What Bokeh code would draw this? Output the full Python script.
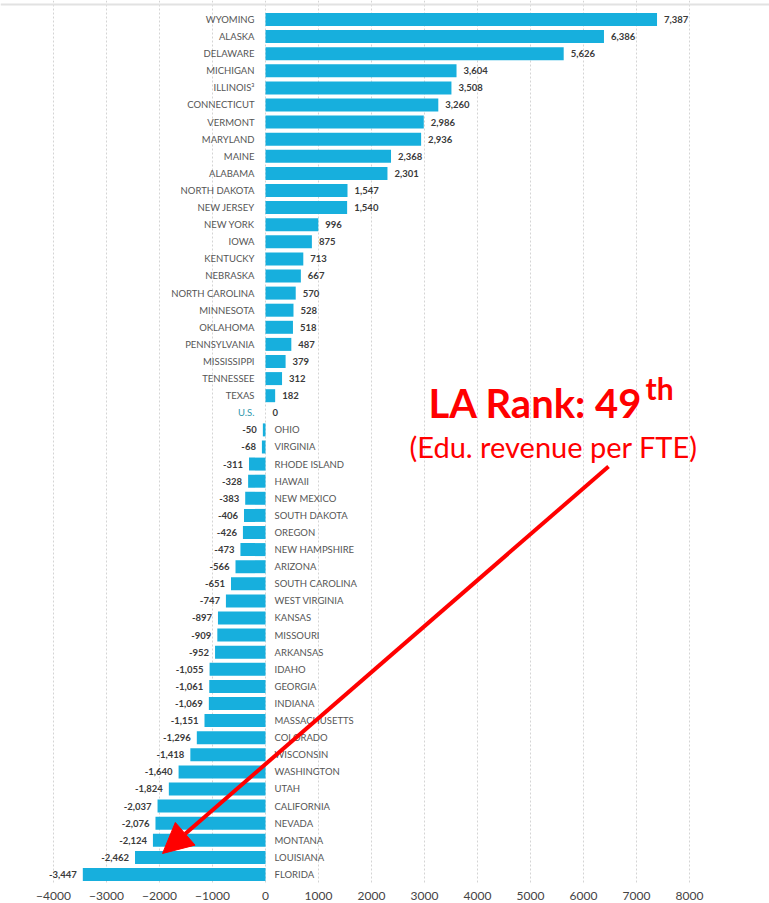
from bokeh.plotting import figure
from bokeh.models import Range1d, FixedTicker, ColumnDataSource, Label, Arrow, NormalHead, Span
from bokeh.core.properties import value
from bokeh.embed import file_html
from bokeh.resources import INLINE

states = ["WYOMING", "ALASKA", "DELAWARE", "MICHIGAN", "ILLINOIS³", "CONNECTICUT",
          "VERMONT", "MARYLAND", "MAINE", "ALABAMA", "NORTH DAKOTA", "NEW JERSEY",
          "NEW YORK", "IOWA", "KENTUCKY", "NEBRASKA", "NORTH CAROLINA", "MINNESOTA",
          "OKLAHOMA", "PENNSYLVANIA", "MISSISSIPPI", "TENNESSEE", "TEXAS", "U.S.",
          "OHIO", "VIRGINIA", "RHODE ISLAND", "HAWAII", "NEW MEXICO", "SOUTH DAKOTA",
          "OREGON", "NEW HAMPSHIRE", "ARIZONA", "SOUTH CAROLINA", "WEST VIRGINIA",
          "KANSAS", "MISSOURI", "ARKANSAS", "IDAHO", "GEORGIA", "INDIANA",
          "MASSACHUSETTS", "COLORADO", "WISCONSIN", "WASHINGTON", "UTAH",
          "CALIFORNIA", "NEVADA", "MONTANA", "LOUISIANA", "FLORIDA"]
values = [7387, 6386, 5626, 3604, 3508, 3260, 2986, 2936, 2368, 2301, 1547, 1540,
          996, 875, 713, 667, 570, 528, 518, 487, 379, 312, 182, 0,
          -50, -68, -311, -328, -383, -406, -426, -473, -566, -651, -747,
          -897, -909, -952, -1055, -1061, -1069, -1151, -1296, -1418, -1640, -1824,
          -2037, -2076, -2124, -2462, -3447]
x_ticks = [-4000, -3000, -2000, -1000, 0, 1000, 2000, 3000, 4000, 5000, 6000, 7000, 8000]

BAR = "#17AFDD"
NAME_COL = "#555555"
VAL_COL = "#3a3a3a"
US_COL = "#2f98ad"

rows = list(range(len(states)))
pos_i = [i for i, v in enumerate(values) if v >= 0]
neg_i = [i for i, v in enumerate(values) if v < 0]

def fmt(v):
    return f"{v:,}"

pos_src = ColumnDataSource(dict(
    y=[rows[i] for i in pos_i],
    v=[values[i] for i in pos_i],
    name=[states[i] for i in pos_i],
    lab=[fmt(values[i]) for i in pos_i],
    ncol=[US_COL if states[i] == "U.S." else NAME_COL for i in pos_i],
))
neg_src = ColumnDataSource(dict(
    y=[rows[i] for i in neg_i],
    v=[values[i] for i in neg_i],
    name=[states[i] for i in neg_i],
    lab=[fmt(values[i]) for i in neg_i],
))
bar_src = ColumnDataSource(dict(y=rows, v=values))

p = figure(width=769, height=903, output_backend="svg", toolbar_location=None,
           x_range=Range1d(-5000, 9509), y_range=Range1d(50.585, -1.111),
           y_axis_location=None, min_border_left=0, min_border_right=0,
           min_border_top=0, min_border_bottom=19)
p.outline_line_color = None
p.background_fill_color = "white"
p.ygrid.visible = False
p.xgrid.ticker = FixedTicker(ticks=x_ticks)
p.xgrid.grid_line_color = "#d4d4d4"
p.xgrid.grid_line_dash = "2 2"
p.xgrid.grid_line_width = 1

p.xaxis.ticker = FixedTicker(ticks=x_ticks)
p.xaxis.axis_line_color = None
p.xaxis.major_tick_line_color = None
p.xaxis.minor_tick_line_color = None
p.xaxis.major_label_standoff = 1
p.xaxis.major_label_text_font = "Lato"
p.xaxis.major_label_text_font_size = "12px"
p.xaxis.major_label_text_color = "#444444"

p.add_layout(Span(location=-0.88, dimension="width", line_color="#e2e2e2", line_width=2))

p.hbar(y="y", left=0, right="v", height=0.76, source=bar_src, fill_color=BAR, line_color=None)

common = dict(text_font=value("Lato"), text_font_size="9.5px", text_baseline="middle")
p.text(x=0, y="y", text="name", x_offset=-11, text_align="right", text_color="ncol",
       source=pos_src, **common)
p.text(x="v", y="y", text="lab", x_offset=7, text_align="left", text_color=VAL_COL,
       text_font_style="bold", source=pos_src, **common)
p.text(x=0, y="y", text="name", x_offset=9, text_align="left", text_color=NAME_COL,
       source=neg_src, **common)
p.text(x="v", y="y", text="lab", x_offset=-6, text_align="right", text_color=VAL_COL,
       text_font_style="bold", source=neg_src, **common)

p.add_layout(Label(x=3075, y=22.4, text="LA Rank: 49", text_font="Lato",
                   text_font_style="bold", text_font_size="40px", text_color="#ff0000",
                   text_baseline="middle", text_align="left"))
p.add_layout(Label(x=7170, y=21.55, text="th", text_font="Lato",
                   text_font_style="bold", text_font_size="30px", text_color="#ff0000",
                   text_baseline="middle", text_align="left"))
p.add_layout(Label(x=5434, y=25.0, text="(Edu. revenue per FTE)", text_font="Lato",
                   text_font_size="29px", text_color="#ff0000",
                   text_baseline="middle", text_align="center"))

p.add_layout(Arrow(end=NormalHead(size=30, fill_color="#ff0000", line_color="#ff0000"),
                   x_start=6472, y_start=26.14, x_end=-1943, y_end=48.77,
                   line_color="#ff0000", line_width=4))

open("out.html", "w").write(file_html(p, INLINE))
